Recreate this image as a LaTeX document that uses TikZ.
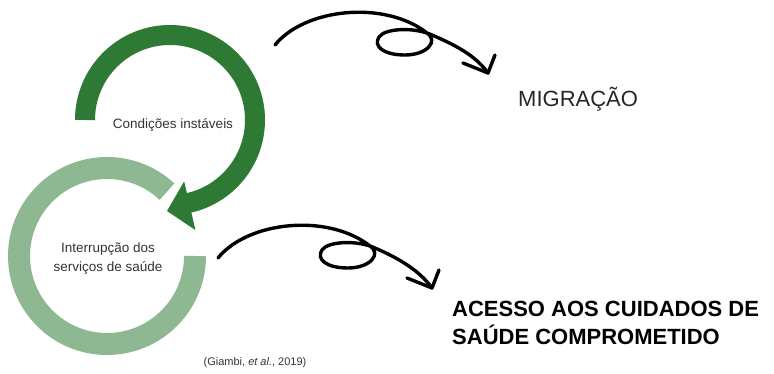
\documentclass[tikz,border=0pt]{standalone}
\usepackage{fontspec}
\setmainfont{Liberation Sans}
\usetikzlibrary{calc}
\definecolor{leafdark}{RGB}{46,122,52}
\definecolor{leaflight}{RGB}{141,184,145}
\definecolor{inkgray}{RGB}{51,51,51}

\begin{document}
\begin{tikzpicture}[x=1pt,y=-1pt,line join=round,
  ring/.style={line width=#1,line cap=butt},
  swirl/.style={line width=3.4pt,line cap=round,line join=round},
  label/.style={inkgray,inner sep=0pt,align=center,font=\fontsize{13.5}{19}\selectfont}]
\useasboundingbox (0,0) rectangle (774,374);
% light ring
\coordinate (lc) at (107,256);
\draw[ring=22pt,leaflight] ($(lc)+(-47:88)$) arc (-47:-360:88);
% dark ring with its head
\coordinate (dc) at (170,120);
\draw[ring=20pt,leafdark] ($(dc)+(-180:85)$) arc (-180:78:85);
\fill[leafdark] ($(dc)+(77:63)$) -- ($(dc)+(77:113)$) -- (167,211) -- cycle;
% texts
\node[label] (cond) at (173,125) {Condições instáveis};
\node[label,anchor=north] (interr) at (108,243) {Interrupção dos\\serviços de saúde};
\node[anchor=base west,inner sep=0pt,text=black!85,font=\fontsize{22}{26}\selectfont] (migr) at (518,107) {MIGRAÇÃO};
\node[anchor=north west,inner sep=0pt,align=left,font=\bfseries\fontsize{22}{28}\selectfont] (acesso) at (452,301) {ACESSO AOS CUIDADOS DE\\SAÚDE COMPROMETIDO};
\node[inkgray,font=\fontsize{11}{13}\selectfont] (ref) at (255,363) {(Giambi, \textit{et al.}, 2019)};
% swirls
\coordinate (s1) at (275,45);
\coordinate (t1) at (488,73);
\coordinate (s2) at (218,258);
\coordinate (t2) at (432,288);
\foreach \s/\t in {s1/t1,s2/t2}{
  \draw[swirl] (\s) .. controls ($(\s)+(30,-37)$) and ($(\s)+(110,-45)$) .. ($(\s)+(152,-12)$)
    .. controls ($(\s)+(164,-4)$) and ($(\s)+(152,10)$) .. ($(\s)+(130,10)$)
    .. controls ($(\s)+(108,10)$) and ($(\s)+(98,1)$) .. ($(\s)+(104,-8)$)
    .. controls ($(\s)+(110,-17)$) and ($(\s)+(140,-18)$) .. ($(\s)+(157,-10)$)
    .. controls ($(\s)+(180,0)$) and ($(\t)+(-13,-18)$) .. (\t);
  \draw[swirl] ($(\t)+(7,-18)$) -- (\t) -- ($(\t)+(-25,-10)$);
}
\end{tikzpicture}
\end{document}
